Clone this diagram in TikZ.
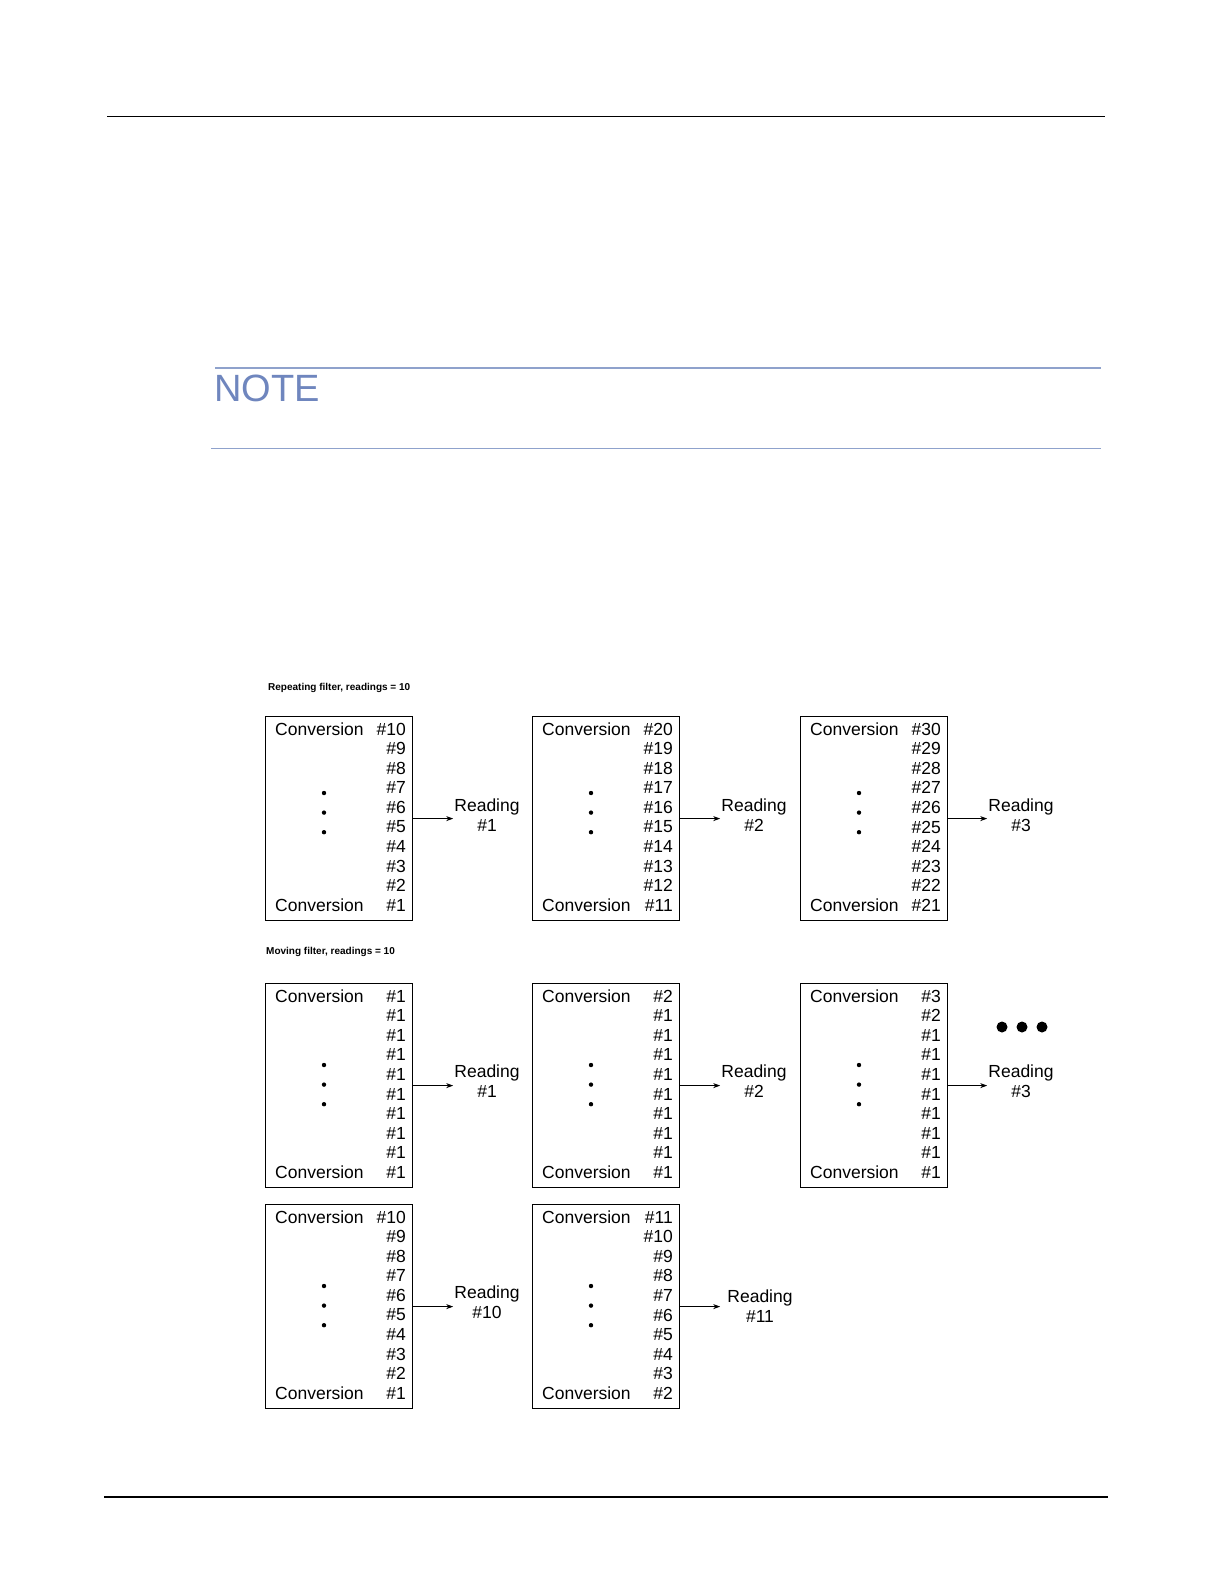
\documentclass[tikz,border=0pt]{standalone}
\usepackage{fontspec}
\setmainfont{Liberation Sans}
\usetikzlibrary{positioning,arrows.meta}
\definecolor{noteblue}{HTML}{6F86BE}
\definecolor{noteline}{HTML}{8FA2CC}
\tikzset{
  cbox/.style={draw,line width=1.2pt,anchor=north west,minimum width=147pt,minimum height=204pt,inner sep=0pt},
  num/.style={inner sep=0pt,anchor=east},
  conv/.style={inner sep=0pt,anchor=west},
  read/.style={align=center,inner sep=1pt},
  arr/.style={-{Stealth[length=7pt,width=5pt]},line width=0.9pt},
  ttl/.style={font=\bfseries,anchor=west,inner sep=0pt}
}
% box: name, left, top, dot offset, labels top to bottom
\newcommand\convbox[5]{%
  \node[cbox] (#1) at (#2,#3) {};
  \foreach \l [count=\i from 0] in {#5}
    \node[num] (#1-\i) at (#2+141,#3+13+19.6*\i) {\l};
  \node[conv] (#1-top) at (#2+10,#3+13) {Conversion};
  \node[conv] (#1-bot) at (#2+10,#3+189.4) {Conversion};
  \foreach \k in {0,1,2}
    \fill (#2+59,#3+#4+19.6*\k) circle (2.2pt);
}
\begin{document}
\begin{tikzpicture}[x=1pt,y=-1pt,font=\fontsize{17.5}{19.6}\selectfont]
\useasboundingbox[fill=white] (0,0) rectangle (1224,1584);

% page rules
\draw[line width=1pt] (107,117) -- (1105,117);
\draw[noteline,line width=1.6pt] (215,368) -- (1101,368);
\node[noteblue,anchor=west,inner sep=0pt,font=\fontsize{38}{40}\selectfont] (note) at (214,388) {NOTE};
\draw[noteline,line width=0.8pt] (211,448) -- (1101,448);
\draw[line width=1.2pt] (104,1497) -- (1108,1497);

% repeating filter
\node[ttl] (t1) at (268,688) {Repeating filter, readings = 10};
\convbox{a1}{265}{716}{77}{\#10,\#9,\#8,\#7,\#6,\#5,\#4,\#3,\#2,\#1}
\convbox{a2}{532}{716}{77}{\#20,\#19,\#18,\#17,\#16,\#15,\#14,\#13,\#12,\#11}
\convbox{a3}{800}{716}{77}{\#30,\#29,\#28,\#27,\#26,\#25,\#24,\#23,\#22,\#21}
\node[read] (ra1) at (487,815) {Reading\\\#1};
\node[read] (ra2) at (754,815) {Reading\\\#2};
\node[read] (ra3) at (1021,815) {Reading\\\#3};
\foreach \b in {1,2,3}
  \draw[arr] (a\b.east) -- (a\b.east -| ra\b.west);

% moving filter
\node[ttl] (t2) at (266,952) {Moving filter, readings = 10};
\convbox{m1}{265}{983}{82}{\#1,\#1,\#1,\#1,\#1,\#1,\#1,\#1,\#1,\#1}
\convbox{m2}{532}{983}{82}{\#2,\#1,\#1,\#1,\#1,\#1,\#1,\#1,\#1,\#1}
\convbox{m3}{800}{983}{82}{\#3,\#2,\#1,\#1,\#1,\#1,\#1,\#1,\#1,\#1}
\node[read] (rm1) at (487,1081) {Reading\\\#1};
\node[read] (rm2) at (754,1081) {Reading\\\#2};
\node[read] (rm3) at (1021,1081) {Reading\\\#3};
\foreach \b in {1,2,3}
  \draw[arr] (m\b.east) -- (m\b.east -| rm\b.west);
\foreach \x in {1002,1022,1042}
  \fill (\x,1027) circle (5.5pt);

\convbox{n1}{265}{1204}{82}{\#10,\#9,\#8,\#7,\#6,\#5,\#4,\#3,\#2,\#1}
\convbox{n2}{532}{1204}{82}{\#11,\#10,\#9,\#8,\#7,\#6,\#5,\#4,\#3,\#2}
\node[read] (rn1) at (487,1302) {Reading\\\#10};
\node[read] (rn2) at (760,1306) {Reading\\\#11};
\draw[arr] (n1.east) -- (n1.east -| rn1.west);
\draw[arr] (n2.east) -- ++(40,0);
\end{tikzpicture}
\end{document}
